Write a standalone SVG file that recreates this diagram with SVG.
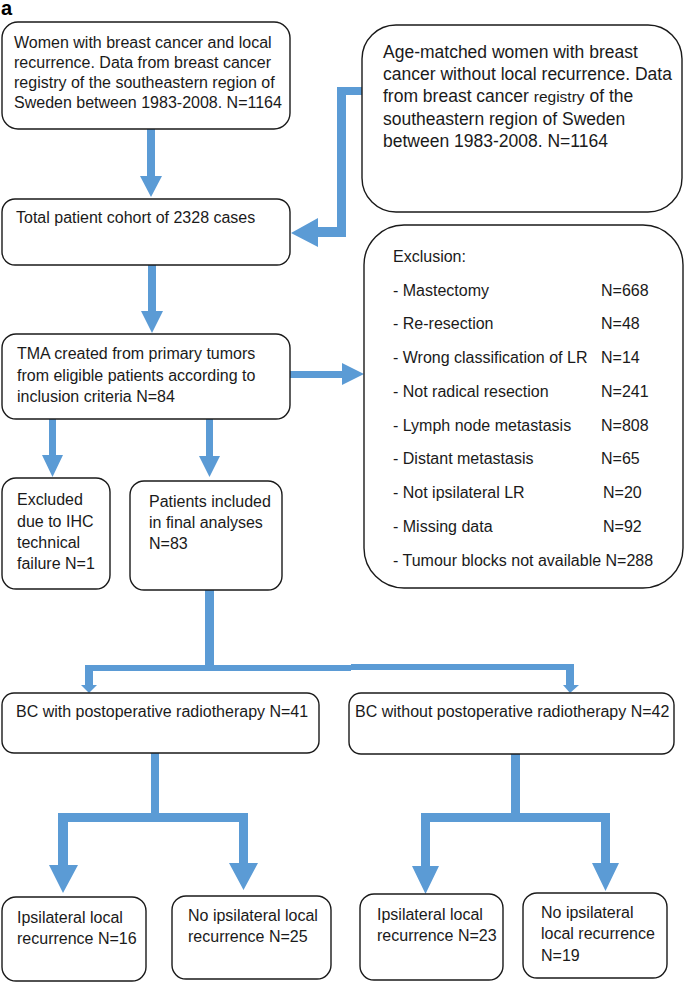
<svg xmlns="http://www.w3.org/2000/svg" width="685" height="983" viewBox="0 0 685 983">
<style>
.box{fill:#fff;stroke:#1a1a1a;stroke-width:1.4}
.t{font-family:"Liberation Sans",Arial,sans-serif;font-size:16px;fill:#1a1a1a}
.t2{font-family:"Liberation Sans",Arial,sans-serif;font-size:17.5px;fill:#1a1a1a}
.c{fill:#5b9bd5;stroke:none}
</style>
<rect width="685" height="983" fill="#fff"/>
<text x="1" y="15" style="font-family:'Liberation Sans',Arial,sans-serif;font-size:20px;font-weight:bold;fill:#000">a</text>

<g id="connectors">
<path class="c" d="M147,129 H155 V176 H162 L151,197 L140,176 H147 Z"/>
<path class="c" d="M362,87 V95 H346 V237 H318 V247 L291,233 L318,218 V227 H337 V87 Z"/>
<path class="c" d="M148,265 H156 V311 H163 L152,333 L141,311 H148 Z"/>
<path class="c" d="M290,371 H342 V363 L364,374 L342,385 V378 H290 Z"/>
<path class="c" d="M49,419 H56 V455 H63 L52.5,477 L42,455 H49 Z"/>
<path class="c" d="M206,419 H213 V456 H220 L209.5,477 L199,456 H206 Z"/>
<path class="c" d="M205,590 H214 V665 H351 V671 H93 V685 H97 L89,693 L81,685 H85 V665 H205 Z"/>
<path class="c" d="M351,664 H574 V685 H579 L570,693 L563,685 H566 V670 H351 Z"/>
<path class="c" d="M151,753 H159 V813 H248 V863 H258 L243.5,890 L229,863 H239 V822 H68 V865 H78 L63,893 L49,865 H58 V813 H151 Z"/>
<path class="c" d="M511,753 H520 V813 H610 V863 H619 L605.5,891 L592,863 H601 V822 H430 V866 H439 L425.5,894 L412,866 H421 V813 H511 Z"/>
</g>

<g id="n1">
<rect class="box" x="2" y="22" width="288" height="107" rx="16"/>
<text class="t" x="14" y="48">Women with breast cancer and local</text>
<text class="t" x="14" y="68">recurrence. Data from breast cancer</text>
<text class="t" x="14" y="88">registry of the southeastern region of</text>
<text class="t" x="14" y="108">Sweden between 1983-2008. N=1164</text>
</g>

<g id="n2">
<rect class="box" x="362" y="25" width="320" height="187" rx="34"/>
<text class="t2" x="383" y="58">Age-matched women with breast</text>
<text class="t2" x="383" y="80">cancer without local recurrence. Data</text>
<text class="t2" x="383" y="102">from breast cancer <tspan style="font-size:15.5px">registry</tspan> of the</text>
<text class="t2" x="383" y="125">southeastern region of Sweden</text>
<text class="t2" x="383" y="147">between 1983-2008. N=1164</text>
</g>

<g id="n3">
<rect class="box" x="2" y="199" width="288" height="66" rx="13"/>
<text class="t" x="16" y="223">Total patient cohort of 2328 cases</text>
</g>

<g id="n4">
<rect class="box" x="364" y="225" width="319" height="363" rx="40"/>
<text class="t" x="393" y="262">Exclusion:</text>
<text class="t" x="393" y="296">- Mastectomy</text><text class="t" x="601" y="296">N=668</text>
<text class="t" x="393" y="329">- Re-resection</text><text class="t" x="601" y="329">N=48</text>
<text class="t" x="393" y="363">- Wrong classification of LR</text><text class="t" x="601" y="363">N=14</text>
<text class="t" x="393" y="397">- Not radical resection</text><text class="t" x="601" y="397">N=241</text>
<text class="t" x="393" y="431">- Lymph node metastasis</text><text class="t" x="601" y="431">N=808</text>
<text class="t" x="393" y="464">- Distant metastasis</text><text class="t" x="601" y="464">N=65</text>
<text class="t" x="393" y="498">- Not ipsilateral LR</text><text class="t" x="603" y="498">N=20</text>
<text class="t" x="393" y="532">- Missing data</text><text class="t" x="603" y="532">N=92</text>
<text class="t" x="393" y="566">- Tumour blocks not available N=288</text>
</g>

<g id="n5">
<rect class="box" x="2" y="334" width="288" height="85" rx="14"/>
<text class="t" x="17" y="359">TMA created from primary tumors</text>
<text class="t" x="17" y="381">from eligible patients according to</text>
<text class="t" x="17" y="402">inclusion criteria N=84</text>
</g>

<g id="n6">
<rect class="box" x="2" y="478" width="108" height="111" rx="14"/>
<text class="t" x="17" y="505">Excluded</text>
<text class="t" x="17" y="527">due to IHC</text>
<text class="t" x="17" y="548">technical</text>
<text class="t" x="17" y="569">failure N=1</text>
</g>

<g id="n7">
<rect class="box" x="130" y="481" width="152" height="109" rx="14"/>
<text class="t" x="149" y="507">Patients included</text>
<text class="t" x="149" y="528">in final analyses</text>
<text class="t" x="149" y="549">N=83</text>
</g>

<g id="n8">
<rect class="box" x="2" y="693" width="317" height="60" rx="12"/>
<text class="t" x="16" y="717">BC with postoperative radiotherapy N=41</text>
</g>

<g id="n9">
<rect class="box" x="349" y="693" width="325" height="61" rx="12"/>
<text class="t" x="355" y="717">BC without postoperative radiotherapy N=42</text>
</g>

<g id="n10">
<rect class="box" x="2" y="897" width="144" height="84" rx="14"/>
<text class="t" x="17" y="923">Ipsilateral local</text>
<text class="t" x="17" y="944">recurrence N=16</text>
</g>

<g id="n11">
<rect class="box" x="172" y="896" width="159" height="83" rx="14"/>
<text class="t" x="188" y="921">No ipsilateral local</text>
<text class="t" x="188" y="942">recurrence N=25</text>
</g>

<g id="n12">
<rect class="box" x="360" y="894" width="143" height="86" rx="14"/>
<text class="t" x="377" y="920">Ipsilateral local</text>
<text class="t" x="377" y="941">recurrence N=23</text>
</g>

<g id="n13">
<rect class="box" x="523" y="893" width="144" height="85" rx="14"/>
<text class="t" x="541" y="918">No ipsilateral</text>
<text class="t" x="541" y="939">local recurrence</text>
<text class="t" x="541" y="961">N=19</text>
</g>
</svg>
